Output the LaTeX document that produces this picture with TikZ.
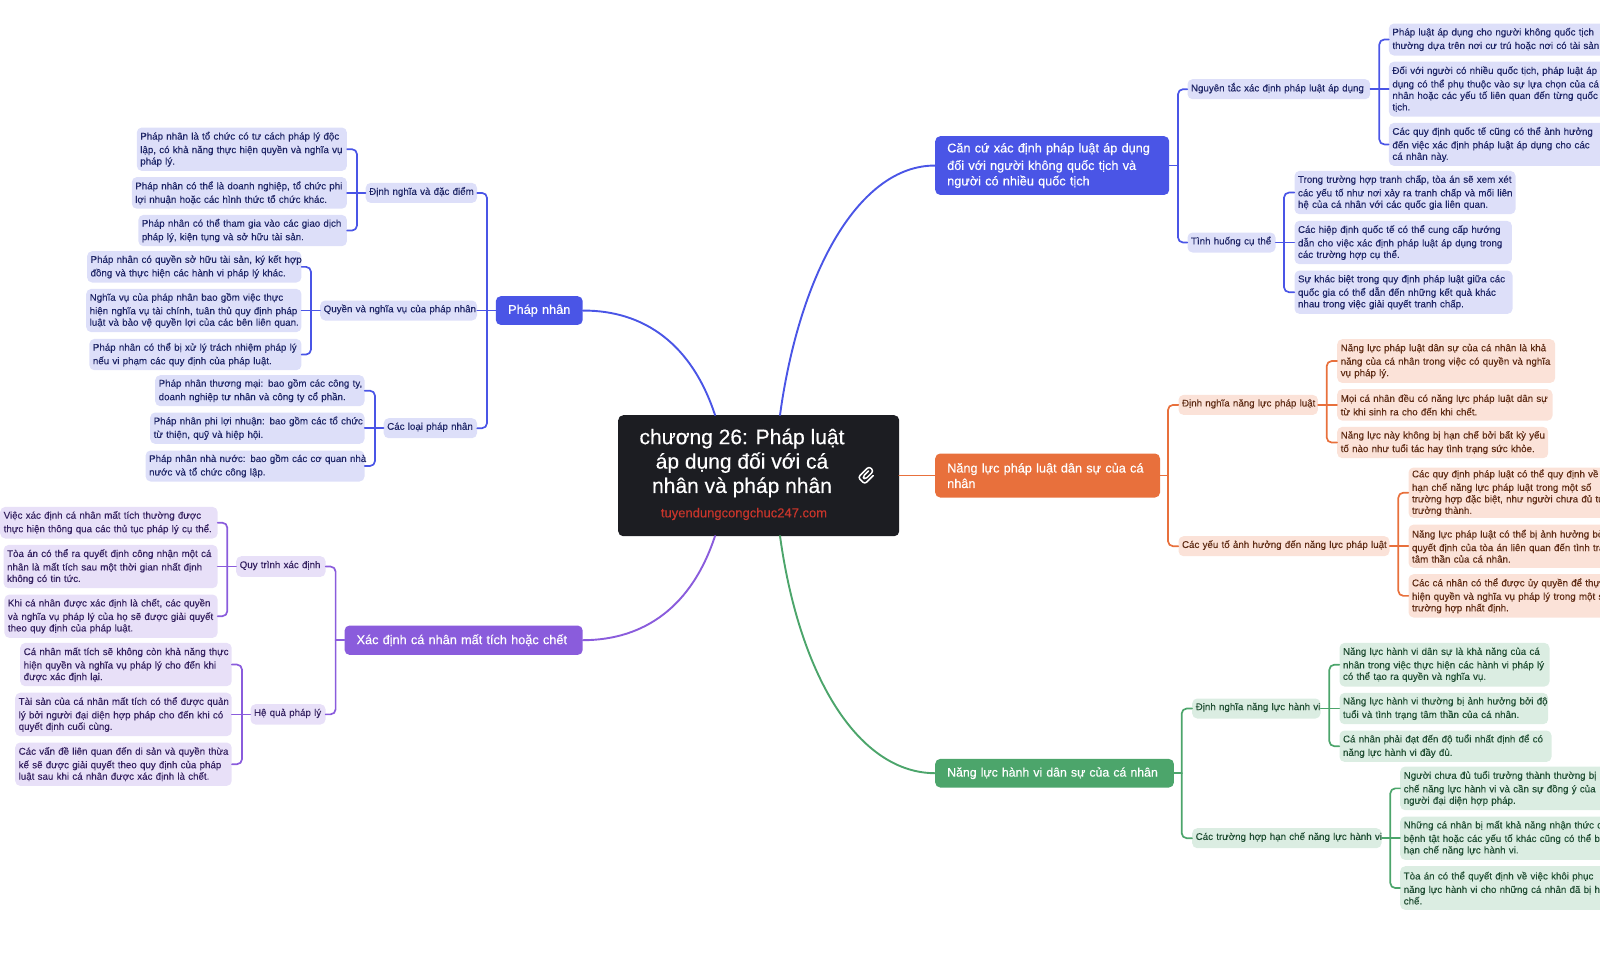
\documentclass[tikz,border=0pt]{standalone}
\usepackage{fontspec}
\setmainfont{Liberation Sans}
\newfontfamily\medfont[FakeBold=0.4]{Liberation Sans}
\newfontfamily\leaffont[FakeBold=0.12]{Liberation Sans}
\definecolor{blueMain}{HTML}{4A55E6}
\definecolor{blueLeaf}{HTML}{DDDFF9}
\definecolor{blueText}{HTML}{1E2566}
\definecolor{orangeMain}{HTML}{E8703C}
\definecolor{orangeLeaf}{HTML}{FBE2D8}
\definecolor{orangeText}{HTML}{5E2B14}
\definecolor{greenMain}{HTML}{4CA56B}
\definecolor{greenLeaf}{HTML}{DBEDE2}
\definecolor{greenText}{HTML}{1F4D32}
\definecolor{purpleMain}{HTML}{8A5CDC}
\definecolor{purpleLeaf}{HTML}{E8E0F8}
\definecolor{purpleText}{HTML}{33205F}
\definecolor{rootDark}{HTML}{1C1D22}
\definecolor{rootRed}{HTML}{C8352B}
% box given by its corners: style, name, x1, y1, x2, y2, text
\newcommand{\mmbox}[7]{%
  \pgfmathsetmacro\bw{#5-#3-7}\pgfmathsetmacro\bh{#6-#4}%
  \node[#1,anchor=north west,text width=\bw pt,minimum height=\bh pt] (#2) at (#3,#4) {\vspace*{2pt}\rightskip=-8pt plus 1fil\relax\hfuzz=10pt #7\par};}
\tikzset{
  leaf/.style={rounded corners=5pt,inner xsep=3.5pt,inner ysep=0pt,align=left,font=\fontsize{9.75}{11.5}\selectfont\leaffont},
  bluebox/.style={leaf,fill=blueLeaf,text=blueText},
  orangebox/.style={leaf,fill=orangeLeaf,text=orangeText},
  greenbox/.style={leaf,fill=greenLeaf,text=greenText},
  purplebox/.style={leaf,fill=purpleLeaf,text=purpleText},
  mainnode/.style={rounded corners=5pt,inner xsep=12pt,inner ysep=0pt,anchor=north west,align=left,text=white,font=\fontsize{12.7}{15.5}\selectfont\medfont},
  blueline/.style={draw=blueMain,line width=1.7pt,rounded corners=5pt},
  orangeline/.style={draw=orangeMain,line width=1.7pt,rounded corners=5pt},
  greenline/.style={draw=greenMain,line width=1.7pt,rounded corners=5pt},
  purpleline/.style={draw=purpleMain,line width=1.7pt,rounded corners=5pt},
}
\begin{document}
\begin{tikzpicture}[x=1pt,y=-1pt,line join=round,line cap=round]
\useasboundingbox (0,0) rectangle (1600,972);

% centre
\node[fill=rootDark,rounded corners=5pt,minimum width=281pt,minimum height=121pt,anchor=north west] (root) at (618,415) {};
\node[text=white,align=center,font=\fontsize{21}{24.4}\selectfont\medfont] (roottitle) at (742,463) {chương 26: Pháp luật\\áp dụng đối với cá\\nhân và pháp nhân};
\node[text=rootRed,font=\fontsize{13}{15}\selectfont\leaffont] (rooturl) at (744,514) {tuyendungcongchuc247.com};
\coordinate (rootTL) at (715,415);
\coordinate (rootTR) at (780,415);
\coordinate (rootBL) at (715,536);
\coordinate (rootBR) at (780,536);
\begin{scope}[shift={(867,475)},rotate=45,white,line width=1.5pt,rounded corners=2.6pt]
  \draw (4,-1.8)--(-4.5,-1.8)--(-4.5,1.8)--(7.5,1.8)--(7.5,-4.6)--(-8,-4.6)--(-8,4.8)--(4,4.8);
\end{scope}

% main topics
\node[mainnode,fill=blueMain,inner xsep=8pt,text width=70.9pt,minimum height=28.7pt,align=center] (ppmain) at (495.6,296) {Pháp nhân};
\node[mainnode,fill=purpleMain,text width=214.1pt,minimum height=29.4pt] (xdmain) at (344.4,625.3) {Xác định cá nhân mất tích hoặc chết};
\node[mainnode,fill=blueMain,text width=210pt,minimum height=58.7pt] (ccmain) at (935,136) {\vspace*{2pt}Căn cứ xác định pháp luật áp dụng\\đối với người không quốc tịch và\\người có nhiều quốc tịch};
\node[mainnode,fill=orangeMain,text width=200.8pt,minimum height=44pt] (plmain) at (935,453.3) {Năng lực pháp luật dân sự của cá\\nhân};
\node[mainnode,fill=greenMain,text width=214.7pt,minimum height=28.6pt,font=\fontsize{12.3}{15}\selectfont\medfont] (hvmain) at (935,758.7) {Năng lực hành vi dân sự của cá nhân};

% Phap nhan
\mmbox{bluebox}{ppdef}{365.5}{182.7}{476.8}{202.7}{Định nghĩa và đặc điểm}
\mmbox{bluebox}{ppright}{320}{300.3}{476.8}{320.3}{Quyền và nghĩa vụ của pháp nhân}
\mmbox{bluebox}{pptype}{383.5}{418}{476.8}{438}{Các loại pháp nhân}
\mmbox{bluebox}{defa}{136.6}{127.3}{346.7}{170.7}{Pháp nhân là tổ chức có tư cách pháp lý độc\\lập, có khả năng thực hiện quyền và nghĩa vụ\\pháp lý.}
\mmbox{bluebox}{defb}{131.6}{176.9}{346.7}{208.5}{Pháp nhân có thể là doanh nghiệp, tổ chức phi\\lợi nhuận hoặc các hình thức tổ chức khác.}
\mmbox{bluebox}{defc}{138.2}{214.7}{346.7}{246}{Pháp nhân có thể tham gia vào các giao dịch\\pháp lý, kiện tụng và sở hữu tài sản.}
\mmbox{bluebox}{riga}{86.9}{251}{301.2}{282.3}{Pháp nhân có quyền sở hữu tài sản, ký kết hợp\\đồng và thực hiện các hành vi pháp lý khác.}
\mmbox{bluebox}{rigb}{86}{288.7}{301.2}{331.9}{Nghĩa vụ của pháp nhân bao gồm việc thực\\hiện nghĩa vụ tài chính, tuân thủ quy định pháp\\luật và bảo vệ quyền lợi của các bên liên quan.}
\mmbox{bluebox}{rigc}{89.2}{338.7}{301.2}{370}{Pháp nhân có thể bị xử lý trách nhiệm pháp lý\\nếu vi phạm các quy định của pháp luật.}
\mmbox{bluebox}{typa}{155}{375}{364.3}{406}{Pháp nhân thương mại: bao gồm các công ty,\\doanh nghiệp tư nhân và công ty cổ phần.}
\mmbox{bluebox}{typb}{150}{412.3}{364.3}{443.7}{Pháp nhân phi lợi nhuận: bao gồm các tổ chức\\từ thiện, quỹ và hiệp hội.}
\mmbox{bluebox}{typc}{145.4}{450.3}{364.3}{481.3}{Pháp nhân nhà nước: bao gồm các cơ quan nhà\\nước và tổ chức công lập.}

% Xac dinh
\mmbox{purplebox}{xdproc}{236}{556}{325.3}{576.7}{Quy trình xác định}
\mmbox{purplebox}{xdcons}{250.3}{704}{325.3}{724.3}{Hệ quả pháp lý}
\mmbox{purplebox}{proa}{0}{506.7}{217.4}{538.3}{Việc xác định cá nhân mất tích thường được\\thực hiện thông qua các thủ tục pháp lý cụ thể.}
\mmbox{purplebox}{prob}{3.4}{544.7}{217.4}{588}{Tòa án có thể ra quyết định công nhận một cá\\nhân là mất tích sau một thời gian nhất định\\không có tin tức.}
\mmbox{purplebox}{proc}{4.2}{594.3}{217.4}{637.7}{Khi cá nhân được xác định là chết, các quyền\\và nghĩa vụ pháp lý của họ sẽ được giải quyết\\theo quy định của pháp luật.}
\mmbox{purplebox}{cona}{20}{642.7}{231.5}{686}{Cá nhân mất tích sẽ không còn khả năng thực\\hiện quyền và nghĩa vụ pháp lý cho đến khi\\được xác định lại.}
\mmbox{purplebox}{conb}{15}{692.5}{231.5}{736}{Tài sản của cá nhân mất tích có thể được quản\\lý bởi người đại diện hợp pháp cho đến khi có\\quyết định cuối cùng.}
\mmbox{purplebox}{conc}{15}{742.3}{231.5}{785.7}{Các vấn đề liên quan đến di sản và quyền thừa\\kế sẽ được giải quyết theo quy định của pháp\\luật sau khi cá nhân được xác định là chết.}

% Can cu
\mmbox{bluebox}{ccrule}{1187.3}{79}{1370}{99}{Nguyên tắc xác định pháp luật áp dụng}
\mmbox{bluebox}{cccase}{1187.3}{232.3}{1275.3}{252.3}{Tình huống cụ thể}
\mmbox{bluebox}{rula}{1388.7}{23.3}{1606}{55.3}{Pháp luật áp dụng cho người không quốc tịch\\thường dựa trên nơi cư trú hoặc nơi có tài sản.}
\mmbox{bluebox}{rulb}{1388.7}{61.5}{1606}{116.5}{Đối với người có nhiều quốc tịch, pháp luật áp\\dụng có thể phụ thuộc vào sự lựa chọn của cá\\nhân hoặc các yếu tố liên quan đến từng quốc\\tịch.}
\mmbox{bluebox}{rulc}{1388.7}{122.7}{1606}{165.7}{Các quy định quốc tế cũng có thể ảnh hưởng\\đến việc xác định pháp luật áp dụng cho các\\cá nhân này.}
\mmbox{bluebox}{casa}{1294.3}{170.7}{1515.3}{214}{Trong trường hợp tranh chấp, tòa án sẽ xem xét\\các yếu tố như nơi xảy ra tranh chấp và mối liên\\hệ của cá nhân với các quốc gia liên quan.}
\mmbox{bluebox}{casb}{1294.3}{220.6}{1511.7}{264}{Các hiệp định quốc tế có thể cung cấp hướng\\dẫn cho việc xác định pháp luật áp dụng trong\\các trường hợp cụ thể.}
\mmbox{bluebox}{casc}{1294.3}{270.3}{1512.3}{313.7}{Sự khác biệt trong quy định pháp luật giữa các\\quốc gia có thể dẫn đến những kết quả khác\\nhau trong việc giải quyết tranh chấp.}

% Nang luc phap luat
\mmbox{orangebox}{pldef}{1178.3}{394.7}{1317.7}{414.7}{Định nghĩa năng lực pháp luật}
\mmbox{orangebox}{plfac}{1178.3}{536}{1389.3}{556}{Các yếu tố ảnh hưởng đến năng lực pháp luật}
\mmbox{orangebox}{lawa}{1337}{339}{1555}{382.7}{Năng lực pháp luật dân sự của cá nhân là khả\\năng của cá nhân trong việc có quyền và nghĩa\\vụ pháp lý.}
\mmbox{orangebox}{lawb}{1337}{389}{1552.3}{420.4}{Mọi cá nhân đều có năng lực pháp luật dân sự\\từ khi sinh ra cho đến khi chết.}
\mmbox{orangebox}{lawc}{1337}{426.7}{1548}{458}{Năng lực này không bị hạn chế bởi bất kỳ yếu\\tố nào như tuổi tác hay tình trạng sức khỏe.}
\mmbox{orangebox}{faca}{1408.3}{467.3}{1660}{517.7}{Các quy định pháp luật có thể quy định về\\hạn chế năng lực pháp luật trong một số\\trường hợp đặc biệt, như người chưa đủ tuổi\\trưởng thành.}
\mmbox{orangebox}{facb}{1408.3}{524.4}{1660}{567.6}{Năng lực pháp luật có thể bị ảnh hưởng bởi\\quyết định của tòa án liên quan đến tình trạng\\tâm thần của cá nhân.}
\mmbox{orangebox}{facc}{1408.3}{574}{1660}{617.3}{Các cá nhân có thể được ủy quyền để thực\\hiện quyền và nghĩa vụ pháp lý trong một số\\trường hợp nhất định.}

% Nang luc hanh vi
\mmbox{greenbox}{hvdef}{1192}{698.3}{1320.3}{718.3}{Định nghĩa năng lực hành vi}
\mmbox{greenbox}{hvlim}{1192}{828}{1381.3}{848}{Các trường hợp hạn chế năng lực hành vi}
\mmbox{greenbox}{acta}{1339.3}{642.7}{1549.3}{686.3}{Năng lực hành vi dân sự là khả năng của cá\\nhân trong việc thực hiện các hành vi pháp lý\\có thể tạo ra quyền và nghĩa vụ.}
\mmbox{greenbox}{actb}{1339.3}{692.7}{1548}{724}{Năng lực hành vi thường bị ảnh hưởng bởi độ\\tuổi và tình trạng tâm thần của cá nhân.}
\mmbox{greenbox}{actc}{1339.3}{730.3}{1551.3}{761.7}{Cá nhân phải đạt đến độ tuổi nhất định để có\\năng lực hành vi đầy đủ.}
\mmbox{greenbox}{lima}{1400}{766.3}{1660}{810}{Người chưa đủ tuổi trưởng thành thường bị hạn\\chế năng lực hành vi và cần sự đồng ý của\\người đại diện hợp pháp.}
\mmbox{greenbox}{limb}{1400}{816.3}{1660}{859.7}{Những cá nhân bị mất khả năng nhận thức do\\bệnh tật hoặc các yếu tố khác cũng có thể bị\\hạn chế năng lực hành vi.}
\mmbox{greenbox}{limc}{1400}{866}{1660}{909.7}{Tòa án có thể quyết định về việc khôi phục\\năng lực hành vi cho những cá nhân đã bị hạn\\chế.}

% curves from the centre
\draw[draw=blueMain,line width=1.9pt] (rootTL) .. controls (692,345) and (645,310.3) .. (ppmain.east);
\draw[draw=purpleMain,line width=1.9pt] (rootBL) .. controls (692,606) and (645,640) .. (xdmain.east);
\draw[draw=blueMain,line width=1.9pt] (rootTR) .. controls (800,270) and (860,165.3) .. (ccmain.west);
\draw[draw=greenMain,line width=1.9pt] (rootBR) .. controls (800,680) and (860,773) .. (hvmain.west);
\draw[draw=orangeMain,line width=1.9pt] (plmain.west) -- (plmain.west -| root.east);

% buses
\coordinate (busPP) at (487,0);
\coordinate (busDef) at (357,0);
\coordinate (busRig) at (311,0);
\coordinate (busTyp) at (375,0);
\coordinate (busXD) at (335.6,0);
\coordinate (busPro) at (227.3,0);
\coordinate (busCon) at (242,0);
\coordinate (busCC) at (1178,0);
\coordinate (busRul) at (1379.3,0);
\coordinate (busCas) at (1284,0);
\coordinate (busPL) at (1168,0);
\coordinate (busLaw) at (1326.7,0);
\coordinate (busFac) at (1398.3,0);
\coordinate (busHV) at (1181.7,0);
\coordinate (busAct) at (1329.3,0);
\coordinate (busLim) at (1390.3,0);

\foreach \kid in {ppdef,pptype} \draw[blueline] (ppmain.west -| busPP) |- (\kid.east);
\draw[blueline] (ppmain.west) -- (ppmain.west -| ppright.east);
\foreach \kid in {defa,defc} \draw[blueline] (ppdef.west -| busDef) |- (\kid.east);
\draw[blueline] (ppdef.west) -- (ppdef.west -| defb.east);
\foreach \kid in {riga,rigc} \draw[blueline] (ppright.west -| busRig) |- (\kid.east);
\draw[blueline] (ppright.west) -- (ppright.west -| rigb.east);
\foreach \kid in {typa,typc} \draw[blueline] (pptype.west -| busTyp) |- (\kid.east);
\draw[blueline] (pptype.west) -- (pptype.west -| typb.east);

\foreach \kid in {xdproc,xdcons} \draw[purpleline] (xdmain.west -| busXD) |- (\kid.east);
\draw[purpleline] (xdmain.west) -- (xdmain.west -| busXD);
\foreach \kid in {proa,proc} \draw[purpleline] (xdproc.west -| busPro) |- (\kid.east);
\draw[purpleline] (xdproc.west) -- (xdproc.west -| prob.east);
\foreach \kid in {cona,conc} \draw[purpleline] (xdcons.west -| busCon) |- (\kid.east);
\draw[purpleline] (xdcons.west) -- (xdcons.west -| conb.east);

\foreach \kid in {ccrule,cccase} \draw[blueline] (ccmain.east -| busCC) |- (\kid.west);
\draw[blueline] (ccmain.east) -- (ccmain.east -| busCC);
\foreach \kid in {rula,rulc} \draw[blueline] (ccrule.east -| busRul) |- (\kid.west);
\draw[blueline] (ccrule.east) -- (ccrule.east -| rulb.west);
\foreach \kid in {casa,casc} \draw[blueline] (cccase.east -| busCas) |- (\kid.west);
\draw[blueline] (cccase.east) -- (cccase.east -| casb.west);

\foreach \kid in {pldef,plfac} \draw[orangeline] (plmain.east -| busPL) |- (\kid.west);
\draw[orangeline] (plmain.east) -- (plmain.east -| busPL);
\foreach \kid in {lawa,lawc} \draw[orangeline] (pldef.east -| busLaw) |- (\kid.west);
\draw[orangeline] (pldef.east) -- (pldef.east -| lawb.west);
\foreach \kid in {faca,facc} \draw[orangeline] (plfac.east -| busFac) |- (\kid.west);
\draw[orangeline] (plfac.east) -- (plfac.east -| facb.west);

\foreach \kid in {hvdef,hvlim} \draw[greenline] (hvmain.east -| busHV) |- (\kid.west);
\draw[greenline] (hvmain.east) -- (hvmain.east -| busHV);
\foreach \kid in {acta,actc} \draw[greenline] (hvdef.east -| busAct) |- (\kid.west);
\draw[greenline] (hvdef.east) -- (hvdef.east -| actb.west);
\foreach \kid in {lima,limc} \draw[greenline] (hvlim.east -| busLim) |- (\kid.west);
\draw[greenline] (hvlim.east) -- (hvlim.east -| limb.west);
\end{tikzpicture}
\end{document}
